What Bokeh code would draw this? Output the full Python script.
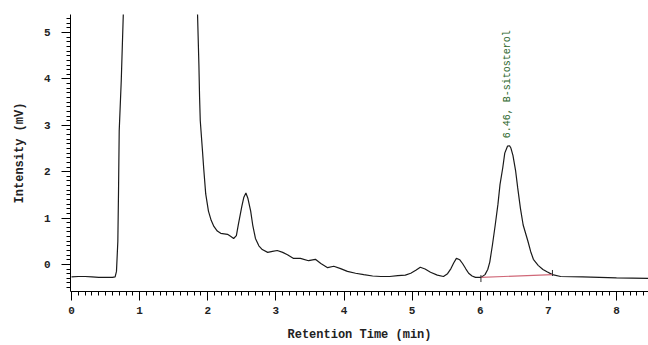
from bokeh.plotting import figure
from bokeh.models import Range1d, FixedTicker
from bokeh.core.properties import value
from bokeh.embed import file_html
from bokeh.resources import INLINE
import math

# Chromatogram trace (min, mV)
time_min = [0.00, 0.10, 0.20, 0.30, 0.40, 0.50, 0.60, 0.64, 0.66, 0.68, 0.69, 0.70,
            0.73, 0.76, 0.80, 1.30, 1.80, 1.85, 1.87, 1.88, 1.89, 1.92, 1.94, 1.97, 2.01,
            2.05, 2.09, 2.14, 2.19, 2.24, 2.29, 2.34, 2.38, 2.42, 2.45, 2.50, 2.53, 2.56,
            2.59, 2.63, 2.66, 2.70, 2.75, 2.80, 2.88, 2.95, 3.02, 3.10, 3.17,
            3.26, 3.36, 3.48, 3.58, 3.66, 3.76, 3.85, 3.95, 4.05, 4.17, 4.29, 4.42, 4.54, 4.67, 4.79,
            4.90, 4.98, 5.06, 5.12, 5.19, 5.27, 5.37, 5.46, 5.52, 5.57, 5.61, 5.65, 5.70, 5.74,
            5.79, 5.83, 5.88, 5.93, 6.01, 6.07, 6.11, 6.14, 6.18, 6.22,
            6.26, 6.29, 6.33, 6.36, 6.40, 6.43, 6.45, 6.48, 6.52, 6.55, 6.59, 6.63, 6.70, 6.74,
            6.78, 6.85, 6.92, 6.98, 7.06, 7.18, 7.50, 8.00, 8.47]
intensity_mv = [-0.27, -0.26, -0.26, -0.27, -0.28, -0.28, -0.28, -0.27, -0.15, 0.50, 1.58, 2.88,
                3.96, 5.39, 8.0, 30.0, 8.0, 5.39, 4.30, 3.60, 3.10, 2.50, 2.08, 1.52, 1.15,
                0.95, 0.82, 0.72, 0.67, 0.66, 0.65, 0.60, 0.56, 0.62, 0.87, 1.25, 1.45, 1.54,
                1.42, 1.15, 0.85, 0.56, 0.40, 0.32, 0.26, 0.28, 0.30, 0.26, 0.21,
                0.13, 0.13, 0.08, 0.11, 0.02, -0.07, -0.04, -0.09, -0.15, -0.19, -0.22, -0.25, -0.26, -0.26, -0.24,
                -0.23, -0.19, -0.12, -0.06, -0.10, -0.17, -0.23, -0.26, -0.20, -0.09, 0.03, 0.13, 0.10, 0.02,
                -0.10, -0.19, -0.25, -0.28, -0.28, -0.22, -0.11, 0.05, 0.43, 0.85,
                1.30, 1.72, 2.08, 2.40, 2.55, 2.56, 2.51, 2.35, 2.01, 1.65, 1.21, 0.85, 0.50, 0.28,
                0.11, -0.02, -0.11, -0.16, -0.22, -0.26, -0.27, -0.29, -0.30]

# Integration baseline of the labelled peak
baseline_t = [6.01, 7.06]
baseline_v = [-0.28, -0.22]

peak_t = [6.40]
peak_label_v = [2.72]
peak_label = ["6.46, B-sitosterol"]

x_ticks = [0, 1, 2, 3, 4, 5, 6, 7, 8]
y_ticks = [0, 1, 2, 3, 4, 5]
x_minor = [i / 10 for i in range(0, 85)]
y_minor = [i / 10 for i in range(-5, 54)]

FONT = "Liberation Mono"

p = figure(width=648, height=345, output_backend="svg", toolbar_location=None,
           x_range=Range1d(-0.015, 8.47), y_range=Range1d(-0.584, 5.39),
           min_border_left=70, min_border_right=0, min_border_top=14, min_border_bottom=54)
p.outline_line_color = None
p.xgrid.visible = False
p.ygrid.visible = False
p.background_fill_color = "white"
p.border_fill_color = "white"

p.line(time_min, intensity_mv, line_color="#1a1a1a", line_width=1.2)
p.line(baseline_t, baseline_v, line_color="#d06878", line_width=1.2)
# small integration markers
p.segment(x0=[baseline_t[0]], y0=[baseline_v[0] + 0.05], x1=[baseline_t[0]], y1=[baseline_v[0] - 0.10],
          line_color="#2a2a2a", line_width=1)
p.segment(x0=[baseline_t[1]], y0=[baseline_v[1] - 0.03], x1=[baseline_t[1]], y1=[baseline_v[1] + 0.10],
          line_color="#2a2a2a", line_width=1)

p.text(x=peak_t, y=peak_label_v, text=peak_label, angle=math.pi / 2,
       text_align="left", text_baseline="middle", text_color="#2a662a",
       text_font=value(FONT), text_font_size="10px")

for ax in (p.xaxis[0], p.yaxis[0]):
    ax.axis_line_color = "black"
    ax.major_tick_line_color = "black"
    ax.minor_tick_line_color = "black"
    ax.major_tick_in = 0
    ax.minor_tick_in = 0
    ax.major_tick_out = 9
    ax.minor_tick_out = 4
    ax.major_label_text_font = FONT
    ax.major_label_text_font_style = "bold"
    ax.major_label_text_font_size = "11px"
    ax.major_label_text_color = "#222222"
    ax.axis_label_text_font = FONT
    ax.axis_label_text_font_style = "bold"
    ax.axis_label_text_font_size = "12px"
    ax.axis_label_text_color = "#222222"

p.xaxis.ticker = FixedTicker(ticks=x_ticks, minor_ticks=x_minor)
p.yaxis.ticker = FixedTicker(ticks=y_ticks, minor_ticks=y_minor)
p.xaxis.axis_label = "Retention Time (min)"
p.yaxis.axis_label = "Intensity (mV)"
p.xaxis.major_label_standoff = 6
p.yaxis.major_label_standoff = 11
p.xaxis.axis_label_standoff = 11
p.yaxis.axis_label_standoff = 14

open("out.html", "w").write(file_html(p, INLINE))
